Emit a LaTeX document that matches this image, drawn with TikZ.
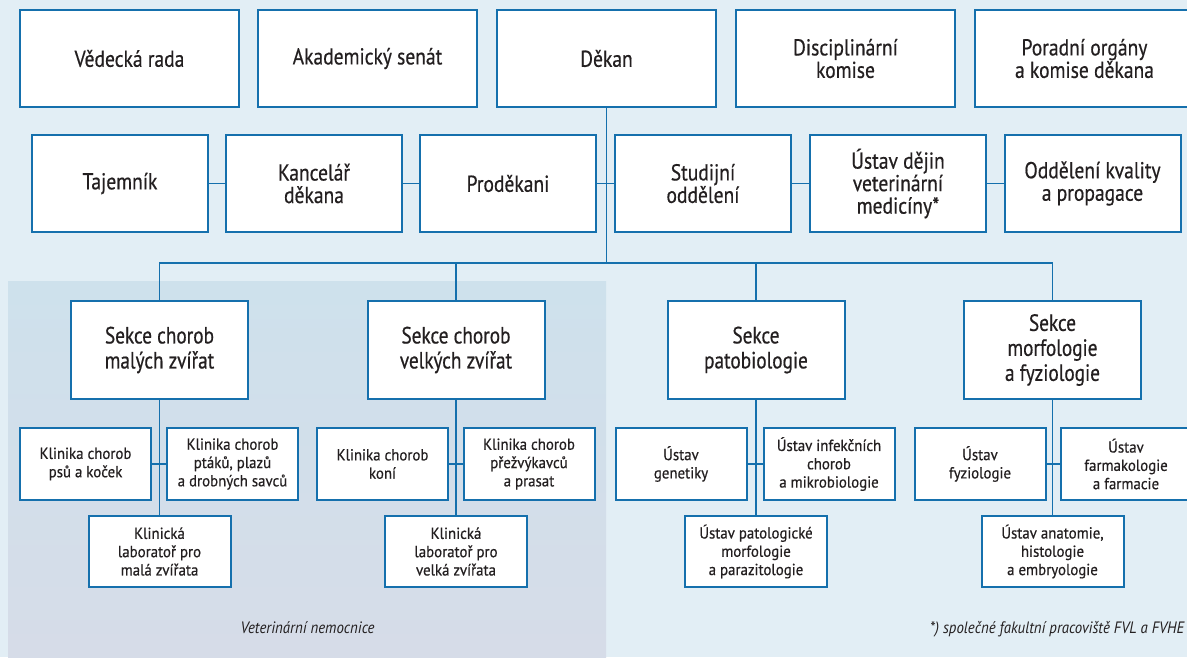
\documentclass[tikz,border=0pt]{standalone}
\usepackage{fontspec}
\setmainfont{PT Sans}
\newfontfamily\bigf{PT Sans}[FakeStretch=0.85,FakeBold=0.5]
\newfontfamily\secf{PT Sans}[FakeStretch=0.82,FakeBold=0.5]
\newfontfamily\smf{PT Sans}[FakeStretch=0.93,FakeBold=0.5]
\newfontfamily\notef{PT Sans}[FakeStretch=0.9]
\definecolor{bg}{HTML}{E2EEF5}
\definecolor{hosptop}{HTML}{CEE1EC}
\definecolor{hospbot}{HTML}{D6DCE8}
\definecolor{ln}{HTML}{1570AD}
\definecolor{txt}{HTML}{231F20}
\begin{document}
\begin{tikzpicture}[x=1pt,y=-1pt,
  box/.style={draw=ln, line width=2pt, fill=white, inner sep=0pt, align=center, text=txt},
  topbox/.style={box, minimum width=219pt, minimum height=97pt, font=\bigf\fontsize{23}{22.5}\selectfont},
  midbox/.style={box, minimum width=176pt, minimum height=97pt, font=\bigf\fontsize{23}{22.5}\selectfont},
  secbox/.style={box, minimum width=177pt, minimum height=98pt, font=\secf\fontsize{23.5}{25}\selectfont},
  chbox/.style={box, minimum width=131pt, minimum height=72pt, font=\smf\fontsize{16}{18.3}\selectfont},
  labbox/.style={box, minimum width=142pt, minimum height=71pt, font=\smf\fontsize{16}{18.3}\selectfont},
  conn/.style={draw=ln, line width=1.7pt},
  note/.style={font=\notef\itshape\fontsize{16.5}{18}\selectfont, text=txt, inner sep=0pt}
]
\useasboundingbox (0,0) rectangle (1187,658);
\fill[white] (0,0) rectangle (1187,658);
\begin{scope}
\clip (0,0) rectangle (1187,658);
\fill[bg] (0,0) rectangle (1187,657);
\shade[top color=hosptop, bottom color=hospbot] (8,281) rectangle (606,657);

% top row
\node[topbox] (ved) at (129.5,58.5) {Vědecká rada};
\node[topbox] (aka) at (367.5,58.5) {Akademický senát};
\node[topbox] (dek) at (606.5,58.5) {Děkan};
\node[topbox] (dis) at (845.5,58.5) {Disciplinární\\komise};
\node[topbox] (por) at (1084.5,58.5) {Poradní orgány\\a komise děkana};

% second row
\node[midbox] (taj) at (120,183.5) {Tajemník};
\node[midbox] (kan) at (314,183.5) {Kancelář\\děkana};
\node[midbox] (pro) at (508,183.5) {Proděkani};
\node[midbox] (stu) at (703,183.5) {Studijní\\oddělení};
\node[midbox] (ust) at (898,183.5) {Ústav dějin\\veterinární\\medicíny*};
\node[midbox] (odd) at (1092.5,183.5) {Oddělení kvality\\a propagace};

% sections
\node[secbox] (smal) at (159.5,350) {Sekce chorob\\malých zvířat};
\node[secbox] (svel) at (456,350) {Sekce chorob\\velkých zvířat};
\node[secbox] (spat) at (756,350) {Sekce\\patobiologie};
\node[secbox] (smor) at (1052.5,350) {Sekce\\morfologie\\a fyziologie};

% children
\node[chbox] (k1) at (85.5,464) {Klinika chorob\\psů a koček};
\node[chbox] (k2) at (232.5,464) {Klinika chorob\\ptáků, plazů\\a drobných savců};
\node[chbox] (k3) at (382.5,464) {Klinika chorob\\koní};
\node[chbox] (k4) at (529,464) {Klinika chorob\\přežvýkavců\\a prasat};
\node[chbox] (u1) at (681,464) {Ústav\\genetiky};
\node[chbox] (u2) at (829,464) {Ústav infekčních\\chorob\\a mikrobiologie};
\node[chbox] (u3) at (980,464) {Ústav\\fyziologie};
\node[chbox] (u4) at (1126,464) {Ústav\\farmakologie\\a farmacie};

% labs
\node[labbox] (l1) at (159.5,551.5) {Klinická\\laboratoř pro\\malá zvířata};
\node[labbox] (l2) at (456,551.5) {Klinická\\laboratoř pro\\velká zvířata};
\node[labbox] (u5) at (756,551.5) {Ústav patologické\\morfologie\\a parazitologie};
\node[labbox] (u6) at (1052.5,551.5) {Ústav anatomie,\\histologie\\a embryologie};

% connectors
\coordinate (bus) at (606.5,263);
\draw[conn] (dek.south) -- (bus);
\draw[conn] (smal.north) |- (bus) -| (smor.north);
\draw[conn] (svel.north) -- (svel.north |- bus);
\draw[conn] (spat.north) -- (spat.north |- bus);

\draw[conn] (taj.east) -- (kan.west);
\draw[conn] (kan.east) -- (pro.west);
\draw[conn] (pro.east) -- (stu.west);
\draw[conn] (stu.east) -- (ust.west);
\draw[conn] (ust.east) -- (odd.west);

\draw[conn] (smal.south) -- (l1.north);
\draw[conn] (svel.south) -- (l2.north);
\draw[conn] (spat.south) -- (u5.north);
\draw[conn] (smor.south) -- (u6.north);

\draw[conn] (k1.east) -- (k2.west);
\draw[conn] (k3.east) -- (k4.west);
\draw[conn] (u1.east) -- (u2.west);
\draw[conn] (u3.east) -- (u4.west);

% notes
\node[note, anchor=base] (vn) at (307.5,633) {Veterinární nemocnice};
\node[note, anchor=base west] (fn) at (930,633) {*) společné fakultní pracoviště FVL a FVHE};
\end{scope}
\end{tikzpicture}
\end{document}
